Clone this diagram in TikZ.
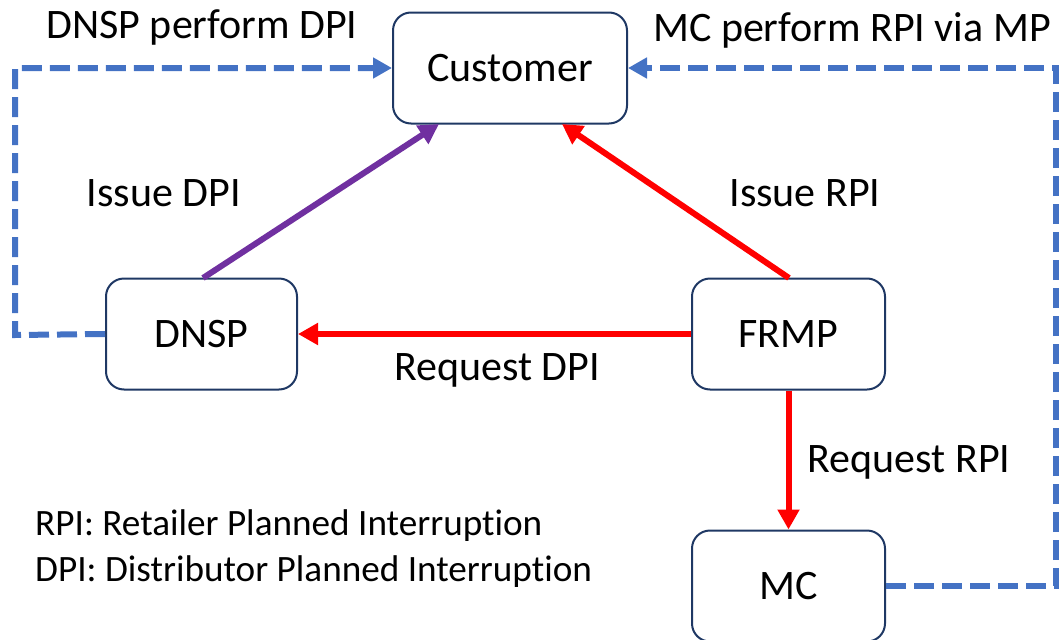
\documentclass[tikz,border=0pt]{standalone}
\usepackage{fontspec}
\setmainfont{Carlito}[Ligatures=NoCommon]
\usetikzlibrary{arrows.meta}
\definecolor{boxline}{HTML}{1F3864}
\definecolor{dblue}{HTML}{4472C4}
\definecolor{purp}{HTML}{7030A0}
\begin{document}
\begin{tikzpicture}[x=1pt,y=-1pt,
  box/.style={draw=boxline,line width=2pt,rounded corners=18pt,inner sep=0pt,minimum height=111pt,font=\fontsize{42}{50}\selectfont},
  lbl/.style={inner sep=0pt,font=\fontsize{42}{50}\selectfont},
  leg/.style={inner sep=0pt,anchor=west,font=\fontsize{37.2}{44}\selectfont},
  redarr/.style={draw=red,line width=6pt,-{Triangle[length=20pt,width=21pt]}},
  purarr/.style={draw=purp,line width=6pt,-{Triangle[length=20pt,width=21pt]}},
  bluearr/.style={draw=dblue,line width=6pt,dash pattern=on 20pt off 8pt,-{Triangle[length=19pt,width=20pt]}}]
\useasboundingbox (0,0) rectangle (1061,640);
\clip (0,0) rectangle (1061,640);
\node[box,minimum width=234pt] (cust) at (510,68) {Customer};
\node[box,minimum width=191pt] (dnsp) at (201.5,334) {DNSP};
\node[box,minimum width=193pt] (frmp) at (788.5,334) {FRMP};
\node[box,minimum width=193pt] (mc) at (788.5,586) {MC};
\coordinate (lt) at (15,68);
\coordinate (lb) at (15,335);
\coordinate (rt) at (1056,68);
\coordinate (rb) at (1056,586);
\coordinate (ptop) at (203,278);
\coordinate (pend) at (439,124);
\coordinate (rtop) at (789,278);
\coordinate (rend) at (562,124);
\draw[bluearr] (dnsp.west) -- (lb) -- (lt) -- (cust.west);
\draw[bluearr] (mc.east) -- (rb) -- (rt) -- (cust.east);
\draw[purarr] (ptop) -- (pend);
\draw[redarr] (rtop) -- (rend);
\draw[redarr] (frmp.west) -- (dnsp.east);
\draw[redarr] (frmp.south) -- (mc.north);
\node[lbl] (l1) at (202,27) {DNSP perform DPI};
\node[lbl] (l2) at (852,30) {MC perform RPI via MP};
\node[lbl] (l3) at (164,193) {Issue DPI};
\node[lbl] (l4) at (805,193) {Issue RPI};
\node[lbl] (l5) at (497,370) {Request DPI};
\node[lbl] (l6) at (909,462) {Request RPI};
\node[leg] (g1) at (35,526) {RPI: Retailer Planned Interruption};
\node[leg] (g2) at (35,572) {DPI: Distributor Planned Interruption};
\end{tikzpicture}
\end{document}
